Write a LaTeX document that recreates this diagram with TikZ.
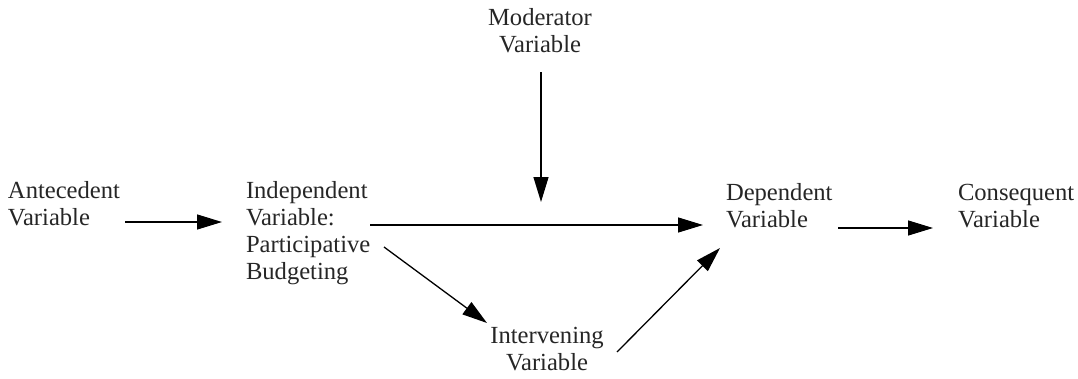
\documentclass[tikz,border=0pt]{standalone}
\usepackage{fontspec}
\setmainfont{Liberation Serif}
\usetikzlibrary{arrows.meta,calc}
\begin{document}
\begin{tikzpicture}[x=1pt,y=-1pt,
  lbl/.style={inner sep=0pt,outer sep=0pt,font=\fontsize{24.6pt}{27pt}\selectfont,text=black!85},
  arr/.style={line width=1.3pt,-{Triangle[length=25pt,width=15pt]}}]
\useasboundingbox (0,0) rectangle (1078,378);
% base anchor = baseline of the last line
\node[lbl,anchor=base west,align=left] (ant) at (8,225) {Antecedent\\Variable};
\node[lbl,anchor=base west,align=left] (ind) at (246,279) {Independent\\Variable:\\Participative\\Budgeting};
\node[lbl,anchor=base west,align=left] (dep) at (726,227) {Dependent\\Variable};
\node[lbl,anchor=base west,align=left] (con) at (958,227) {Consequent\\Variable};
\node[lbl,anchor=base,align=center] (mod) at (540,52) {Moderator\\Variable};
\node[lbl,anchor=base,align=center] (int) at (547,370) {Intervening\\Variable};
\draw[arr] ($(ant.base west)+(117,-3)$) -- ($(ind.base west)+(-24,-57)$);
\draw[arr] ($(ind.base west)+(124,-54)$) -- ($(dep.base west)+(-23,-2)$);
\draw[arr] ($(mod.base)+(1,20)$) -- ($(mod.base)+(1,150)$);
\draw[arr] ($(dep.base west)+(112,1)$) -- ($(con.base west)+(-25,1)$);
\draw[arr] ($(ind.base west)+(138,-32)$) -- ($(int.base)+(-60,-47)$);
\draw[arr] ($(int.base)+(70,-18)$) -- ($(dep.base west)+(-6,21)$);
\end{tikzpicture}
\end{document}
